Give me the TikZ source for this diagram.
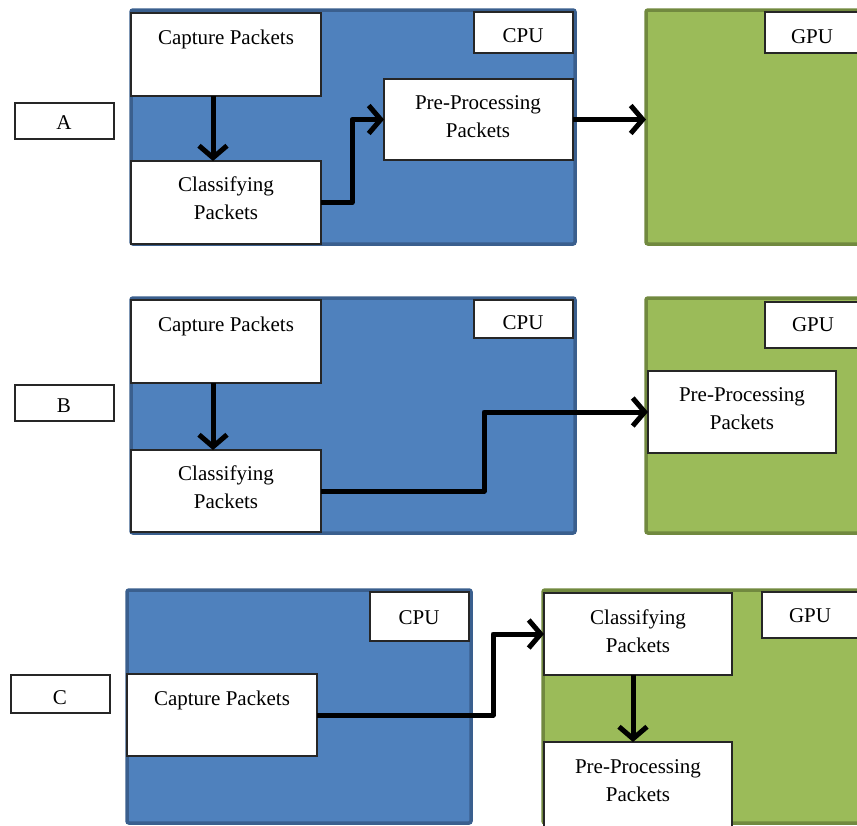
\documentclass[tikz,border=0pt]{standalone}
\usepackage{fontspec}
\setmainfont{Liberation Serif}
\usetikzlibrary{arrows.meta}
\definecolor{cpufill}{HTML}{4F81BD}
\definecolor{cpuline}{HTML}{3A5F8E}
\definecolor{gpufill}{HTML}{9BBB59}
\definecolor{gpuline}{HTML}{71893F}
\tikzset{
  region/.style={draw, line width=3.5pt, rounded corners=2pt, inner sep=0pt, outer sep=0pt, anchor=north west},
  cpureg/.style={region, fill=cpufill, draw=cpuline},
  gpureg/.style={region, fill=gpufill, draw=gpuline},
  wbox/.style={draw=black!85, line width=1.1pt, fill=white, inner sep=0pt, outer sep=0pt, anchor=north west},
  txt/.style={font=\fontsize{21}{28}\selectfont, align=center, inner sep=0pt, anchor=north},
  flow/.style={line width=5pt, black, line join=round, -{Straight Barb[length=12pt,width=28pt]}}
}
\begin{document}
\begin{tikzpicture}[x=1pt,y=-1pt]
\useasboundingbox (0,0) rectangle (857,825);
\clip (0,0) rectangle (857,825);

% ---------- row A ----------
\node[cpureg, minimum width=444pt, minimum height=234pt] (cpuA) at (131,10) {};
\node[gpureg, minimum width=230pt, minimum height=234pt] (gpuA) at (646,10) {};
\node[wbox, minimum width=99pt, minimum height=36pt] (labA) at (15,103) {};
\node[wbox, minimum width=99pt, minimum height=41pt] (cpuTagA) at (474,12) {};
\node[wbox, minimum width=96pt, minimum height=41pt] (gpuTagA) at (765,12) {};
\node[wbox, minimum width=190pt, minimum height=83pt] (capA) at (131,13) {};
\node[wbox, minimum width=190pt, minimum height=83pt] (clsA) at (131,161) {};
\node[wbox, minimum width=189pt, minimum height=81pt] (preA) at (384,79) {};
\node[txt] (tLabA) at (64,115) {A};
\node[txt] (tCpuA) at (523,28) {CPU};
\node[txt] (tGpuA) at (812,29) {GPU};
\node[txt] (tCapA) at (226,30) {Capture Packets};
\node[txt] (tClsA) at (226,177) {Classifying\\Packets};
\node[txt] (tPreA) at (478,95) {Pre-Processing\\Packets};
\draw[flow] ([xshift=-13pt]capA.south) -- ([xshift=-13pt]clsA.north);
\draw[flow] (clsA.east) -- ++(31,0) |- (preA.west);
\draw[flow] (preA.east) -- (preA.east -| gpuA.west);

% ---------- row B ----------
\node[cpureg, minimum width=444pt, minimum height=235pt] (cpuB) at (131,298) {};
\node[gpureg, minimum width=230pt, minimum height=235pt] (gpuB) at (646,298) {};
\node[wbox, minimum width=99pt, minimum height=36pt] (labB) at (15,385) {};
\node[wbox, minimum width=99pt, minimum height=38pt] (cpuTagB) at (474,300) {};
\node[wbox, minimum width=96pt, minimum height=46pt] (gpuTagB) at (765,302) {};
\node[wbox, minimum width=190pt, minimum height=83pt] (capB) at (131,300) {};
\node[wbox, minimum width=190pt, minimum height=82pt] (clsB) at (131,450) {};
\node[wbox, minimum width=188pt, minimum height=82pt] (preB) at (648,371) {};
\node[txt] (tLabB) at (64,399) {B};
\node[txt] (tCpuB) at (523,315) {CPU};
\node[txt] (tGpuB) at (813,317) {GPU};
\node[txt] (tCapB) at (226,317) {Capture Packets};
\node[txt] (tClsB) at (226,466) {Classifying\\Packets};
\node[txt] (tPreB) at (742,387) {Pre-Processing\\Packets};
\draw[flow] ([xshift=-13pt]capB.south) -- ([xshift=-13pt]clsB.north);
\draw[flow] (clsB.east) -- ++(163,0) |- (preB.west);

% ---------- row C ----------
\node[cpureg, minimum width=344pt, minimum height=233pt] (cpuC) at (127,590) {};
\node[gpureg, minimum width=330pt, minimum height=233pt] (gpuC) at (543,590) {};
\node[wbox, minimum width=99pt, minimum height=38pt] (labC) at (11,675) {};
\node[wbox, minimum width=99pt, minimum height=49pt] (cpuTagC) at (370,592) {};
\node[wbox, minimum width=99pt, minimum height=46pt] (gpuTagC) at (762,592) {};
\node[wbox, minimum width=190pt, minimum height=82pt] (capC) at (127,674) {};
\node[wbox, minimum width=188pt, minimum height=82pt] (clsC) at (544,593) {};
\node[wbox, minimum width=188pt, minimum height=90pt] (preC) at (544,742) {};
\node[txt] (tLabC) at (60,690) {C};
\node[txt] (tCpuC) at (419,610) {CPU};
\node[txt] (tGpuC) at (810,608) {GPU};
\node[txt] (tCapC) at (222,691) {Capture Packets};
\node[txt] (tClsC) at (638,610) {Classifying\\Packets};
\node[txt] (tPreC) at (638,759) {Pre-Processing\\Packets};
\draw[flow] (capC.east) -- ++(176,0) |- (clsC.west);
\draw[flow] ([xshift=-5pt]clsC.south) -- ([xshift=-5pt]preC.north);
\end{tikzpicture}
\end{document}
